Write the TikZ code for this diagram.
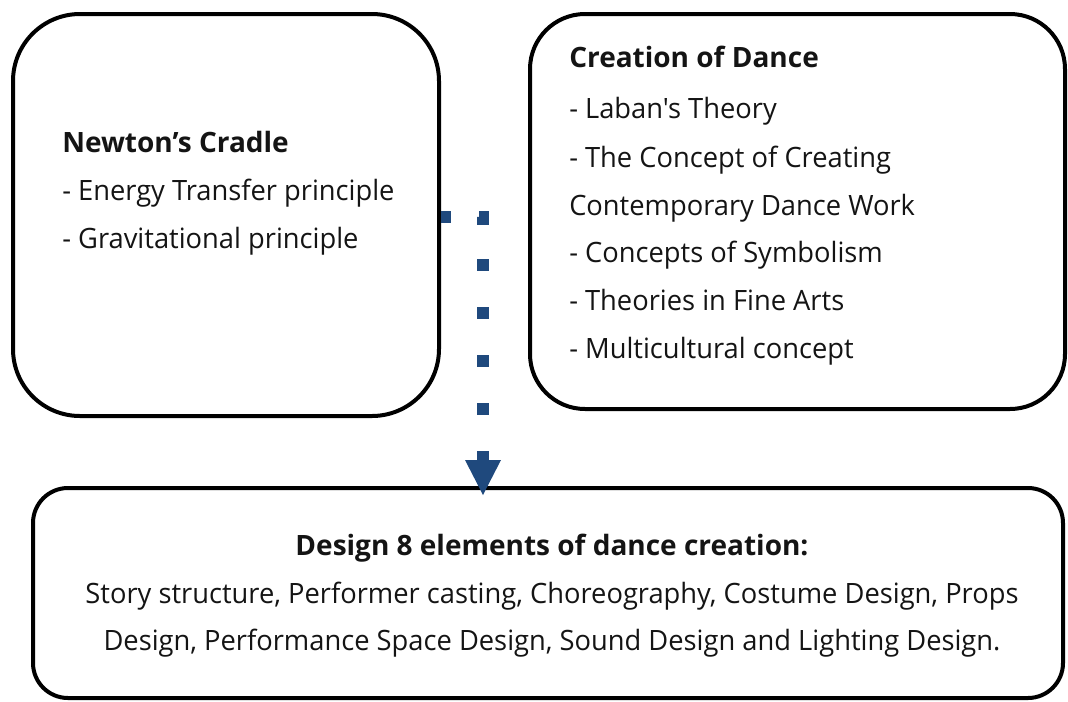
\documentclass[tikz,border=0pt]{standalone}
\usepackage{fontspec}
\setmainfont{Open Sans}[Ligatures=TeXOff, FakeStretch=0.975, BoldFeatures={FakeStretch=1.0}]
\usetikzlibrary{arrows.meta}
\definecolor{dotblue}{RGB}{31,73,125}
\definecolor{ink}{RGB}{20,20,20}
\begin{document}
\begin{tikzpicture}[x=0.75pt,y=-0.75pt,
  box/.style={draw=black, line width=3pt, fill=none, inner sep=0pt},
  txt/.style={anchor=base west, inner sep=0pt, text=ink, font=\fontsize{21}{25}\selectfont},
  ttl/.style={txt, font=\fontsize{21}{25}\selectfont\bfseries},
  ctxt/.style={txt, anchor=base},
  cttl/.style={ttl, anchor=base},
  conn/.style={draw=dotblue, line width=9pt,
    dash pattern=on 7.5pt off 21pt on 9pt off 25.5pt on 9pt off 27pt on 9pt off 27pt on 9pt off 27pt on 9pt off 27pt on 9pt off 27pt on 9pt off 27pt,
    -{Triangle[length=26.25pt,width=27pt,line width=0pt]}}]
\useasboundingbox (0,0) rectangle (1068,701);
% boxes
\node[box, rounded corners=50.25pt, minimum width=319.5pt, minimum height=301.5pt] (lb) at (226,215) {};
\node[box, rounded corners=41.25pt, minimum width=401.25pt, minimum height=296.25pt] (rb) at (797.5,211.5) {};
\node[box, rounded corners=26.25pt, minimum width=772.5pt, minimum height=157.5pt] (bb) at (548,593) {};
% left text
\node[ttl] (l1) at (62,152) {Newton’s Cradle};
\node[txt] (l2) at (62,200) {- Energy Transfer principle};
\node[txt] (l3) at (62,248) {- Gravitational principle};
% right text
\node[ttl] (r1) at (569,67) {Creation of Dance};
\node[txt] (r2) at (569,118) {- Laban's Theory};
\node[txt] (r3) at (569,167) {- The Concept of Creating};
\node[txt] (r4) at (569,215) {Contemporary Dance Work};
\node[txt] (r5) at (569,262) {- Concepts of Symbolism};
\node[txt] (r6) at (569,310) {- Theories in Fine Arts};
\node[txt] (r7) at (569,358) {- Multicultural concept};
% bottom text
\node[cttl] (b1) at (552,555) {Design 8 elements of dance creation:};
\node[ctxt] (b2) at (552,603) {Story structure, Performer casting, Choreography, Costume Design, Props};
\node[ctxt] (b3) at (552,650) {Design, Performance Space Design, Sound Design and Lighting Design.};
% connector
\draw[conn] ([yshift=-1.5pt]lb.east) -| ([xshift=-48.75pt,yshift=-6.75pt]bb.north);
\end{tikzpicture}
\end{document}
